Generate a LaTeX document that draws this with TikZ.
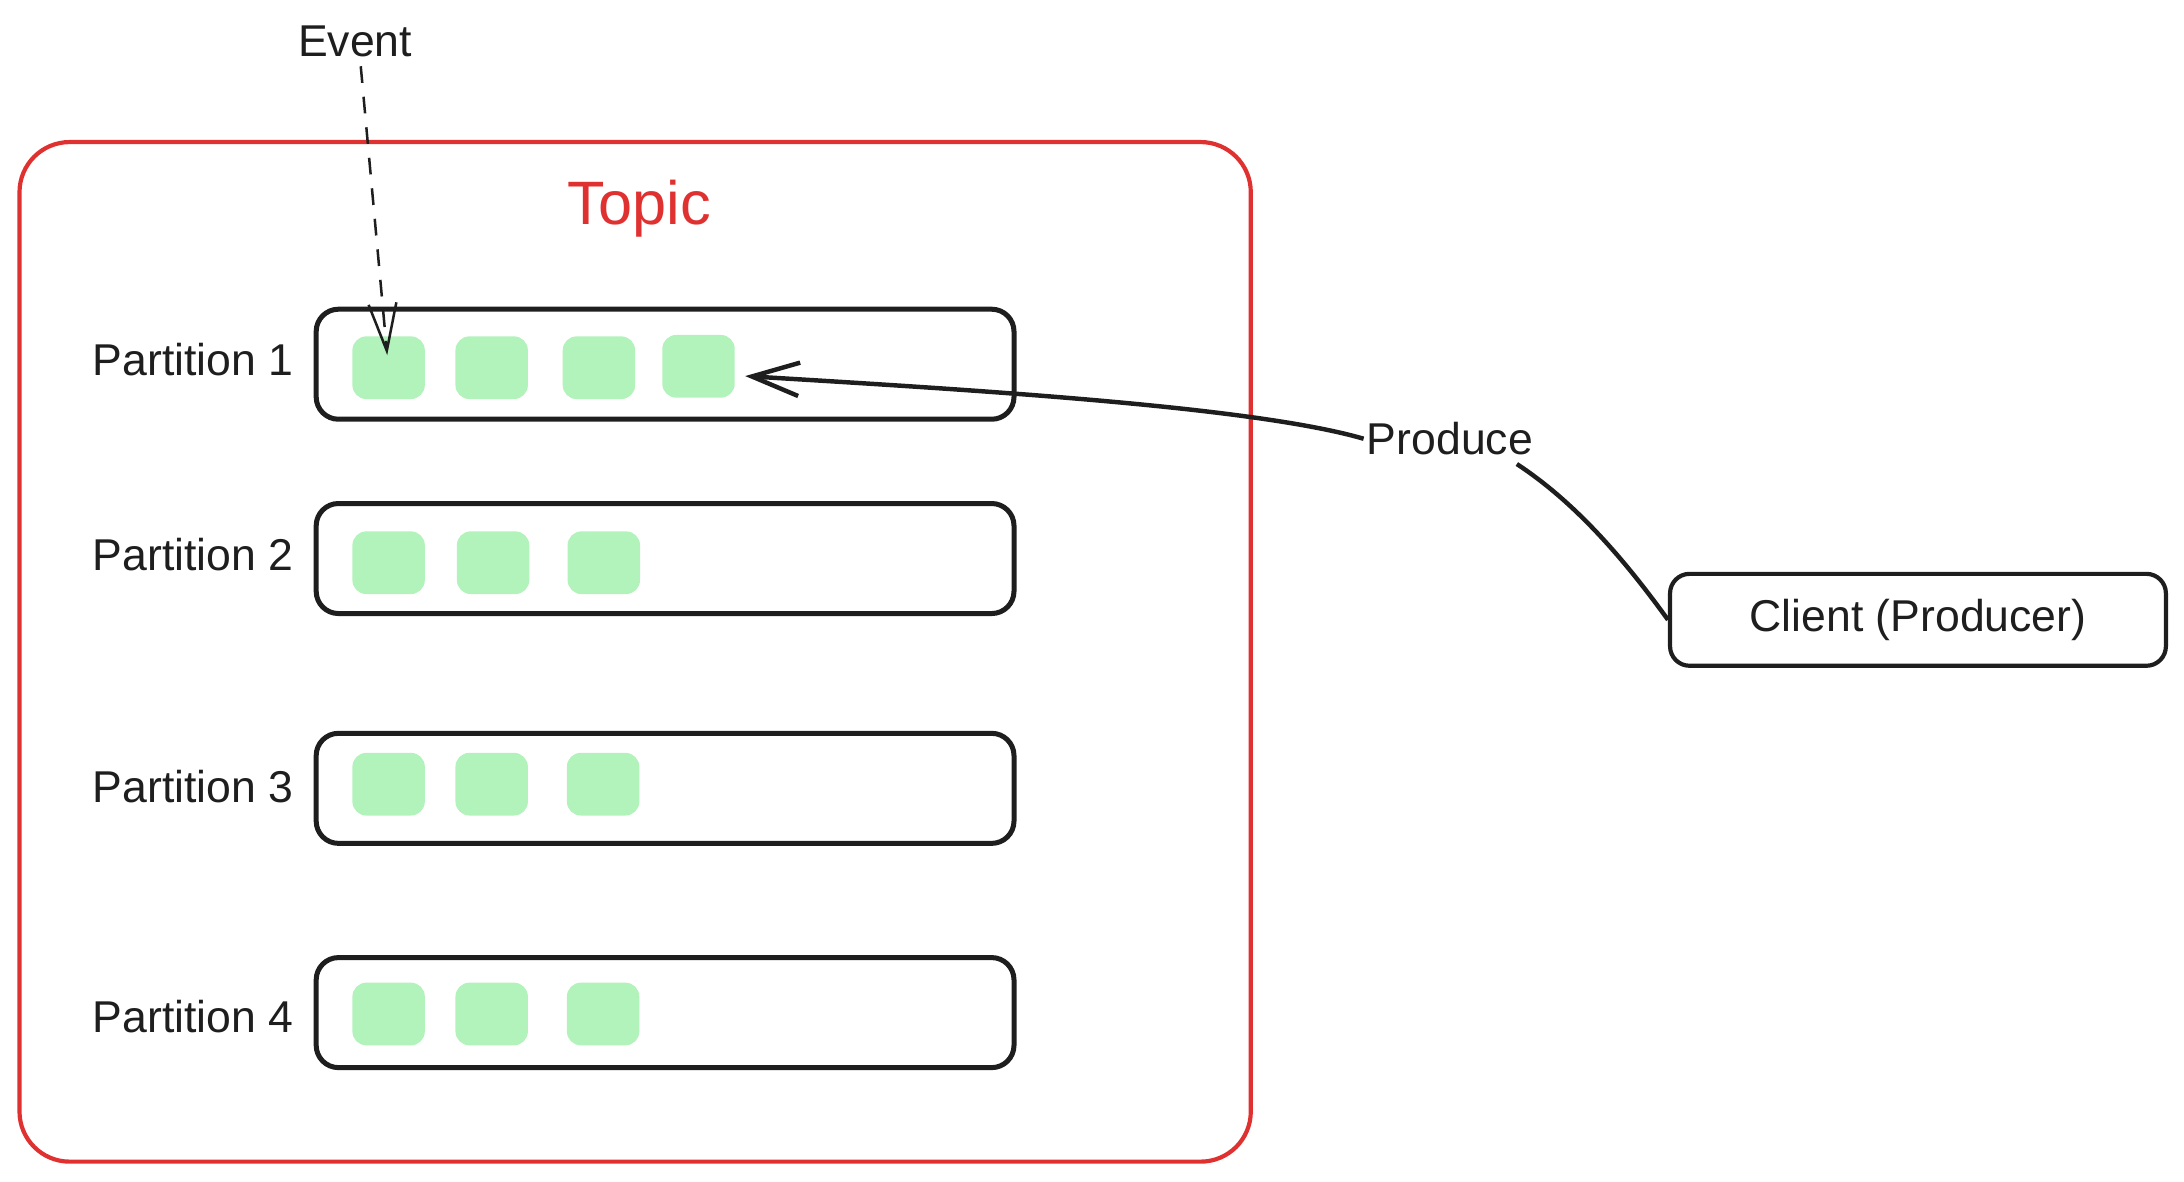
\documentclass[tikz,border=0pt]{standalone}
\usepackage{fontspec}
\setmainfont{Liberation Sans}
\usetikzlibrary{arrows.meta,calc}
\definecolor{inkblack}{HTML}{1E1E1E}
\definecolor{topicred}{HTML}{E03131}
\definecolor{evgreen}{HTML}{B2F2BB}
\tikzset{
  topicbox/.style={draw=topicred, line width=1.5pt, rounded corners=18pt, minimum width=442pt, minimum height=366pt, inner sep=0pt},
  partbox/.style={draw=inkblack, line width=1.8pt, rounded corners=8pt, minimum width=250.5pt, minimum height=39.5pt, inner sep=0pt},
  clientbox/.style={draw=inkblack, line width=1.5pt, rounded corners=7pt, minimum width=178pt, minimum height=33pt, inner sep=0pt, font=\fontsize{16}{19}\selectfont, text=inkblack},
  evbox/.style={fill=evgreen, rounded corners=5pt, minimum width=26pt, minimum height=22.5pt, inner sep=0pt},
  lbl/.style={text=inkblack, font=\fontsize{16}{19}\selectfont, inner sep=1pt},
  topiclbl/.style={text=topicred, font=\fontsize{22}{26}\selectfont, inner sep=1pt},
  conn/.style={draw=inkblack, line width=1.6pt},
  evconn/.style={draw=inkblack, line width=0.9pt, dash pattern=on 6pt off 5pt},
}
\begin{document}
\begin{tikzpicture}[x=0.5pt,y=-0.5pt]
\useasboundingbox (0,0) rectangle (1568,848.6);
% topic
\node[topicbox] (topic) at (456,468) {};
\node[topiclbl] (topictext) at (459,150) {Topic};
% partitions
\node[partbox] (p1) at (477.5,261.5) {};
\node[partbox] (p2) at (477.5,401) {};
\node[partbox] (p3) at (477.5,566) {};
\node[partbox] (p4) at (477.5,727) {};
\node[lbl,anchor=east] (l1) at (213,258) {Partition 1};
\node[lbl,anchor=east] (l2) at (213,398) {Partition 2};
\node[lbl,anchor=east] (l3) at (213,565) {Partition 3};
\node[lbl,anchor=east] (l4) at (213,730) {Partition 4};
% events
\node[evbox] (e11) at (279,264) {};
\node[evbox] (e12) at (353,264) {};
\node[evbox] (e13) at (430,264) {};
\node[evbox] (e14) at (501.5,263) {};
\node[evbox] (e21) at (279,404) {};
\node[evbox] (e22) at (354,404) {};
\node[evbox] (e23) at (433.5,404) {};
\node[evbox] (e31) at (279,563) {};
\node[evbox] (e32) at (353,563) {};
\node[evbox] (e33) at (433,563) {};
\node[evbox] (e41) at (279,728) {};
\node[evbox] (e42) at (353,728) {};
\node[evbox] (e43) at (433,728) {};
% event label and arrow
\node[lbl] (event) at (255,30) {Event};
\coordinate (evtip) at (278,255);
\draw[evconn, -{Straight Barb[length=17pt,width=10pt,line width=0.9pt]}] (event.south) ++(4,4) -- (evtip);
% client
\node[clientbox] (client) at (1377,445) {Client (Producer)};
\node[lbl] (produce) at (1041,315) {Produce};
\coordinate (prodtip) at (535,270);
\draw[conn, -{Straight Barb[length=17pt,width=12pt,line width=1.6pt]}] (produce.west) .. controls (900,292) and (700,280) .. (prodtip);
\draw[conn] ($(produce.south east)+(-14,4)$) .. controls (1130,360) and (1165,400) .. (client.west);
\end{tikzpicture}
\end{document}
